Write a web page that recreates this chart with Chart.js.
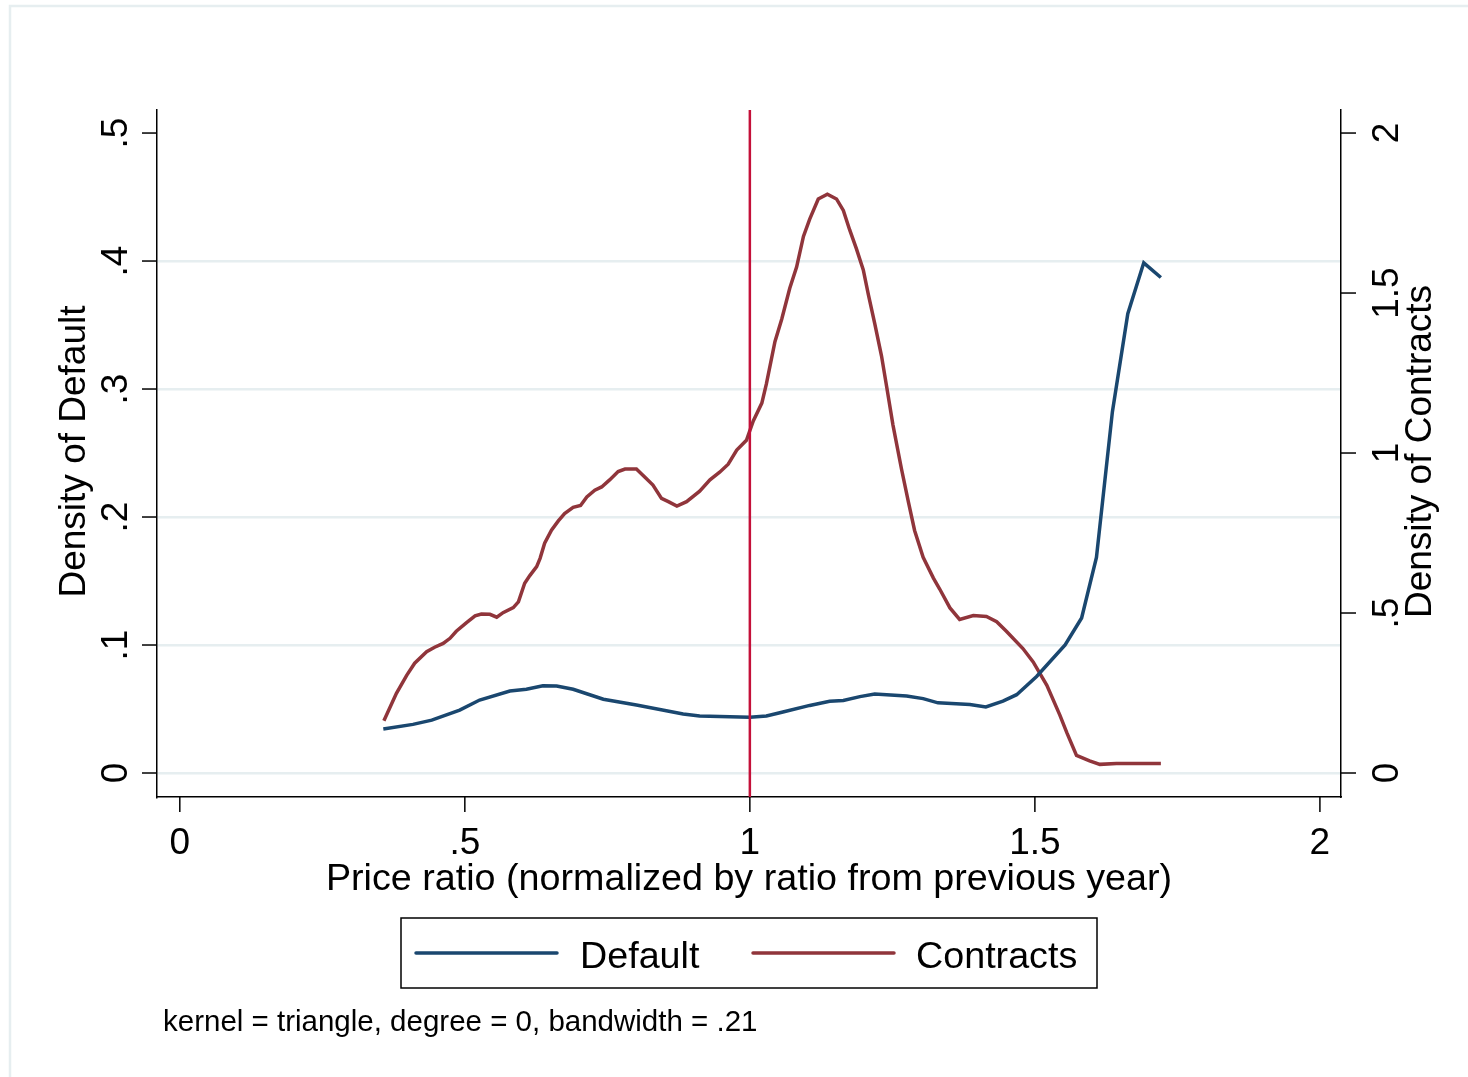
<!DOCTYPE html>
<html>
<head>
<meta charset="utf-8">
<script src="https://cdn.jsdelivr.net/npm/chart.js@4.4.1/dist/chart.umd.min.js"></script>
<style>
  html, body { margin: 0; padding: 0; background: #fff; }
  canvas { display: block; }
</style>
</head>
<body>
<canvas id="myChart" width="1468" height="1077"></canvas>
<script>
// density of Default (left axis)
const defaultX = [0.357, 0.409, 0.442, 0.491, 0.526, 0.579, 0.608, 0.637, 0.661, 0.690, 0.743, 0.801,
    0.883, 0.912, 1.000, 1.029, 1.058, 1.105, 1.140, 1.164, 1.193, 1.219, 1.275, 1.304, 1.330, 1.386,
    1.414, 1.444, 1.468, 1.503, 1.553, 1.582, 1.608, 1.636, 1.663, 1.691, 1.721];
const defaultY = [0.0344, 0.0380, 0.0413, 0.0492, 0.0570, 0.0641, 0.0654, 0.0682, 0.0680, 0.0654, 0.0576, 0.0531,
    0.0461, 0.0445, 0.0435, 0.0445, 0.0477, 0.0528, 0.0561, 0.0566, 0.0597, 0.0617, 0.0602, 0.0581, 0.0548, 0.0536,
    0.0516, 0.0561, 0.0612, 0.0754, 0.1000, 0.1211, 0.1685, 0.2823, 0.3589, 0.3986, 0.3871];

// density of Contracts (right axis)
const contractsX = [0.358, 0.380, 0.398, 0.412, 0.433, 0.447, 0.462, 0.474, 0.485, 0.503, 0.518, 0.529,
    0.544, 0.556, 0.567, 0.585, 0.594, 0.605, 0.614, 0.626, 0.632, 0.640, 0.652, 0.664, 0.675, 0.690,
    0.703, 0.714, 0.728, 0.740, 0.754, 0.769, 0.781, 0.801, 0.816, 0.830, 0.845, 0.857, 0.872, 0.889,
    0.912, 0.930, 0.947, 0.962, 0.977, 0.994, 1.006, 1.021, 1.029, 1.044, 1.056, 1.070, 1.082, 1.094,
    1.105, 1.120, 1.136, 1.152, 1.164, 1.175, 1.187, 1.199, 1.208, 1.219, 1.231, 1.240, 1.251, 1.266,
    1.278, 1.289, 1.304, 1.322, 1.333, 1.351, 1.368, 1.392, 1.415, 1.433, 1.450, 1.479, 1.497, 1.521,
    1.544, 1.556, 1.573, 1.596, 1.614, 1.643, 1.721];
const contractsY = [0.163, 0.249, 0.305, 0.343, 0.379, 0.393, 0.405, 0.421, 0.443, 0.470, 0.491, 0.497,
    0.496, 0.487, 0.501, 0.517, 0.535, 0.593, 0.617, 0.645, 0.671, 0.718, 0.759, 0.788, 0.811, 0.830,
    0.836, 0.863, 0.884, 0.894, 0.916, 0.942, 0.950, 0.950, 0.924, 0.900, 0.858, 0.848, 0.834, 0.848,
    0.881, 0.916, 0.940, 0.965, 1.009, 1.040, 1.100, 1.156, 1.216, 1.348, 1.419, 1.515, 1.581, 1.677,
    1.731, 1.794, 1.809, 1.794, 1.758, 1.698, 1.638, 1.572, 1.494, 1.405, 1.303, 1.207, 1.088, 0.950,
    0.848, 0.758, 0.674, 0.609, 0.575, 0.516, 0.480, 0.492, 0.489, 0.473, 0.443, 0.389, 0.347, 0.274,
    0.180, 0.126, 0.055, 0.038, 0.027, 0.030, 0.030];

const xTicks = [0, 0.5, 1, 1.5, 2];
const xTickLabels = ['0', '.5', '1', '1.5', '2'];
const leftTicks = [0, 0.1, 0.2, 0.3, 0.4, 0.5];
const leftTickLabels = ['0', '.1', '.2', '.3', '.4', '.5'];
const rightTicks = [0, 0.5, 1, 1.5, 2];
const rightTickLabels = ['0', '.5', '1', '1.5', '2'];
const refLineX = 1;

const seriesNames = ['Default', 'Contracts'];
const xTitle = 'Price ratio (normalized by ratio from previous year)';
const leftTitle = 'Density of Default';
const rightTitle = 'Density of Contracts';
const noteText = 'kernel = triangle, degree = 0, bandwidth = .21';

const FONT = "'Liberation Sans', Arial, sans-serif";
const BLUE = '#1a476f';
const MAROON = '#90353b';
const GRID = '#e6eef0';

const toPoints = (xs, ys) => xs.map((x, i) => ({ x: x, y: ys[i] }));

const rotatedText = (c, text, x, y) => {
    c.save();
    c.translate(x, y);
    c.rotate(-Math.PI / 2);
    c.textAlign = 'center';
    c.textBaseline = 'alphabetic';
    c.fillText(text, 0, 0);
    c.restore();
};

const stataPlugin = {
    id: 'stataLook',
    beforeDraw(chart) {
        const c = chart.ctx;
        c.save();
        c.fillStyle = '#fff';
        c.fillRect(0, 0, chart.width, chart.height);
        // light outer frame
        c.strokeStyle = GRID;
        c.lineWidth = 2.5;
        c.beginPath();
        c.moveTo(10, chart.height + 5);
        c.lineTo(10, 6);
        c.lineTo(chart.width + 5, 6);
        c.stroke();
        c.restore();
    },
    afterDatasetsDraw(chart) {
        const c = chart.ctx;
        const area = chart.chartArea;
        const px = chart.scales.x.getPixelForValue(refLineX);
        c.save();
        c.strokeStyle = '#c41039';
        c.lineWidth = 2.5;
        c.beginPath();
        c.moveTo(px, area.top);
        c.lineTo(px, area.bottom);
        c.stroke();
        c.restore();
    },
    afterDraw(chart) {
        const c = chart.ctx;
        const area = chart.chartArea;
        const xs = chart.scales.x, yl = chart.scales.y, yr = chart.scales.y2;
        const midY = (area.top + area.bottom) / 2 - 2;
        c.save();
        c.strokeStyle = '#000';
        c.fillStyle = '#000';
        c.lineWidth = 1.5;
        c.font = '37px ' + FONT;

        // x axis ticks + labels
        xTicks.forEach((v, i) => {
            const p = xs.getPixelForValue(v);
            c.beginPath(); c.moveTo(p, area.bottom); c.lineTo(p, area.bottom + 15); c.stroke();
            c.textAlign = 'center';
            c.textBaseline = 'alphabetic';
            c.fillText(xTickLabels[i], p, 854);
        });
        c.font = '37.7px ' + FONT;
        c.fillText(xTitle, (area.left + area.right) / 2, 890);
        c.font = '37px ' + FONT;

        // left axis
        leftTicks.forEach((v, i) => {
            const p = yl.getPixelForValue(v);
            c.beginPath(); c.moveTo(area.left - 15, p); c.lineTo(area.left, p); c.stroke();
            rotatedText(c, leftTickLabels[i], 127, p);
        });
        rotatedText(c, leftTitle, 85, midY);

        // right axis
        rightTicks.forEach((v, i) => {
            const p = yr.getPixelForValue(v);
            c.beginPath(); c.moveTo(area.right, p); c.lineTo(area.right + 15, p); c.stroke();
            rotatedText(c, rightTickLabels[i], 1398, p);
        });
        rotatedText(c, rightTitle, 1431, midY);

        // legend box
        c.strokeRect(401, 918, 696, 70);
        const entries = [
            { x0: 416, x1: 557, tx: 580 },
            { x0: 753, x1: 894, tx: 916 }
        ];
        c.font = '37.7px ' + FONT;
        chart.data.datasets.forEach((ds, i) => {
            const e = entries[i];
            c.save();
            c.strokeStyle = ds.borderColor;
            c.lineWidth = 3.5;
            c.lineCap = 'round';
            c.beginPath(); c.moveTo(e.x0, 953); c.lineTo(e.x1, 953); c.stroke();
            c.restore();
            c.textAlign = 'left';
            c.fillText(ds.label, e.tx, 968);
        });

        // note
        c.font = '29.5px ' + FONT;
        c.textAlign = 'left';
        c.fillText(noteText, 163, 1031);
        c.restore();
    }
};

const renderChart = () => {
    var ctx = document.getElementById('myChart').getContext('2d');
    var chart = new Chart(ctx, {
        type: 'line',
        data: {
            datasets: [{
                label: seriesNames[0],
                data: toPoints(defaultX, defaultY),
                yAxisID: 'y',
                borderColor: BLUE,
                borderWidth: 3.5,
                pointRadius: 0,
                tension: 0,
                fill: false
            }, {
                label: seriesNames[1],
                data: toPoints(contractsX, contractsY),
                yAxisID: 'y2',
                borderColor: MAROON,
                borderWidth: 3.5,
                pointRadius: 0,
                tension: 0,
                fill: false
            }]
        },
        options: {
            responsive: false,
            animation: false,
            devicePixelRatio: 1,
            layout: { padding: { left: 157, right: 119, top: 110, bottom: 272 } },
            plugins: { legend: { display: false }, tooltip: { enabled: false } },
            scales: {
                x: {
                    type: 'linear',
                    min: -0.04,
                    max: 2.037,
                    grid: { display: false },
                    border: { display: true, color: '#000', width: 1.5 },
                    ticks: { display: false }
                },
                y: {
                    type: 'linear',
                    position: 'left',
                    min: -0.01875,
                    max: 0.518,
                    ticks: { display: false, stepSize: 0.1, includeBounds: false },
                    grid: {
                        drawTicks: false,
                        lineWidth: 2.5,
                        color: (c) => (c.tick && c.tick.value > 0.45) ? 'rgba(0,0,0,0)' : GRID
                    },
                    border: { display: true, color: '#000', width: 1.5 }
                },
                y2: {
                    type: 'linear',
                    position: 'right',
                    min: -0.075,
                    max: 2.072,
                    ticks: { display: false },
                    grid: { display: false, drawOnChartArea: false },
                    border: { display: true, color: '#000', width: 1.5 }
                }
            }
        },
        plugins: [stataPlugin]
    });
};

renderChart();
</script>
</body>
</html>
